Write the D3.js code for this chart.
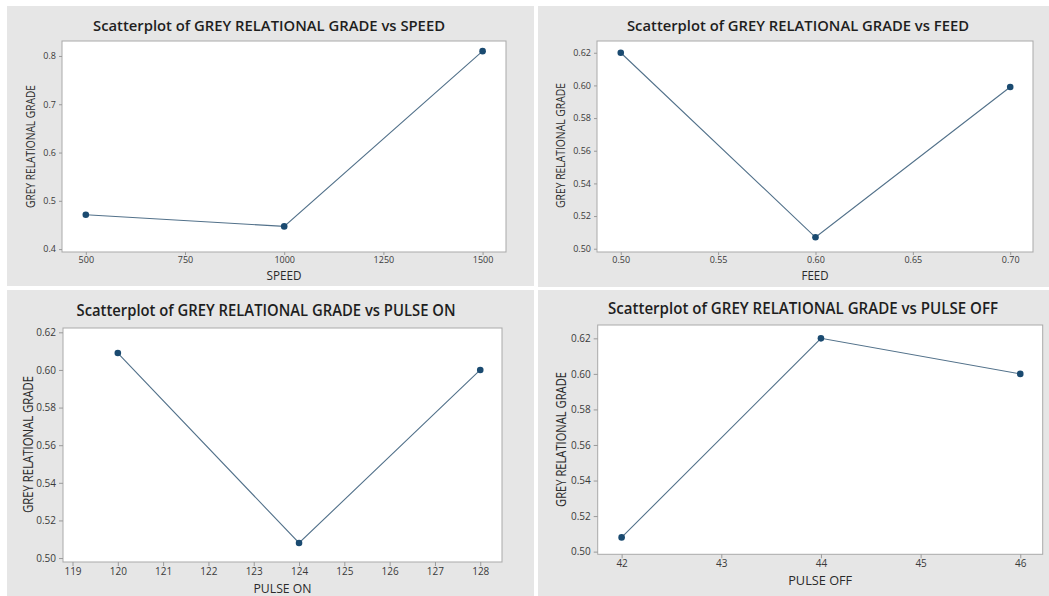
<!DOCTYPE html>
<html>
<head>
<meta charset="utf-8">
<script src="https://cdn.jsdelivr.net/npm/d3@7"></script>
<style>
  html, body { margin: 0; padding: 0; background: #ffffff; }
  svg { display: block; }
  .tick text { font-family: "Open Sans", "Noto Sans", sans-serif; fill: #3a3a3a; }
</style>
</head>
<body>
<svg id="chart" width="1049" height="596"></svg>
<script>
// ---------------- DATA ----------------
const titles = [
  "Scatterplot of GREY RELATIONAL GRADE vs SPEED",
  "Scatterplot of GREY RELATIONAL GRADE vs FEED",
  "Scatterplot of GREY RELATIONAL GRADE vs PULSE ON",
  "Scatterplot of GREY RELATIONAL GRADE vs PULSE OFF"
];
const xLabels = ["SPEED", "FEED", "PULSE ON", "PULSE OFF"];
const yLabel = "GREY RELATIONAL GRADE";

const speedLevels = [500, 1000, 1500];
const speedGRG = [0.471, 0.447, 0.810];

const feedLevels = [0.50, 0.60, 0.70];
const feedGRG = [0.620, 0.507, 0.599];

const pulseOnLevels = [120, 124, 128];
const pulseOnGRG = [0.609, 0.508, 0.600];

const pulseOffLevels = [42, 44, 46];
const pulseOffGRG = [0.508, 0.620, 0.600];

const speedTicks = [500, 750, 1000, 1250, 1500];
const speedGRGTicks = [0.4, 0.5, 0.6, 0.7, 0.8];
const feedTicks = [0.50, 0.55, 0.60, 0.65, 0.70];
const grgTicks = [0.50, 0.52, 0.54, 0.56, 0.58, 0.60, 0.62];
const pulseOnTicks = [119, 120, 121, 122, 123, 124, 125, 126, 127, 128];
const pulseOffTicks = [42, 43, 44, 45, 46];

// ---------------- LAYOUT ----------------
const panels = [
  { title: titles[0], xLabel: xLabels[0], xs: speedLevels, ys: speedGRG,
    xTicks: speedTicks, yTicks: speedGRGTicks, xFmt: d3.format("d"), yFmt: d3.format(".1f"),
    xDomain: [440, 1559], yDomain: [0.394, 0.831],
    box: [7, 6, 527, 280], plot: [62, 41, 506, 252],
    titleX: 269, titleY: 30.5, titleSize: 15, titleLen: 352,
    yLabX: 34.5, yLabY: 146.5, yLabSize: 12, yLabLen: 123,
    xLabY: 279.5, xLabSize: 12, xLabLen: 35,
    tickSize: 9, tickLen: 3, tickPad: 2 },
  { title: titles[1], xLabel: xLabels[1], xs: feedLevels, ys: feedGRG,
    xTicks: feedTicks, yTicks: grgTicks, xFmt: d3.format(".2f"), yFmt: d3.format(".2f"),
    xDomain: [0.4878, 0.7117], yDomain: [0.498, 0.6272],
    box: [538, 6, 511, 281], plot: [597, 41, 1033, 252],
    titleX: 798, titleY: 30.5, titleSize: 15, titleLen: 342,
    yLabX: 565, yLabY: 145.5, yLabSize: 12, yLabLen: 125,
    xLabY: 279.5, xLabSize: 12, xLabLen: 27,
    tickSize: 9, tickLen: 3, tickPad: 2 },
  { title: titles[2], xLabel: xLabels[2], xs: pulseOnLevels, ys: pulseOnGRG,
    xTicks: pulseOnTicks, yTicks: grgTicks, xFmt: d3.format("d"), yFmt: d3.format(".2f"),
    xDomain: [118.79, 128.48], yDomain: [0.4979, 0.6223],
    box: [7, 290, 527, 306], plot: [63, 328, 502, 562],
    titleX: 266, titleY: 316, titleSize: 16, titleLen: 379,
    yLabX: 33, yLabY: 444.5, yLabSize: 14, yLabLen: 137,
    xLabY: 592.5, xLabSize: 13, xLabLen: 58,
    tickSize: 10, tickLen: 4, tickPad: 2 },
  { title: titles[3], xLabel: xLabels[3], xs: pulseOffLevels, ys: pulseOffGRG,
    xTicks: pulseOffTicks, yTicks: grgTicks, xFmt: d3.format("d"), yFmt: d3.format(".2f"),
    xDomain: [41.76, 46.225], yDomain: [0.4985, 0.6275],
    box: [538, 290, 511, 306], plot: [597.7, 325, 1042.7, 554.3],
    titleX: 803, titleY: 313.5, titleSize: 16, titleLen: 390,
    yLabX: 565.5, yLabY: 439.5, yLabSize: 14, yLabLen: 135,
    xLabY: 585, xLabSize: 13, xLabLen: 64,
    tickSize: 10, tickLen: 4, tickPad: 2 }
];

const svg = d3.select("#chart");
const font = '"Open Sans", "Noto Sans", sans-serif';

panels.forEach(p => {
  const [bx, by, bw, bh] = p.box;
  const [l, t, r, b] = p.plot;
  const g = svg.append("g");

  g.append("rect").attr("x", bx).attr("y", by).attr("width", bw).attr("height", bh)
    .attr("fill", "#e6e6e6");

  const x = d3.scaleLinear().domain(p.xDomain).range([l, r]);
  const y = d3.scaleLinear().domain(p.yDomain).range([b, t]);

  g.append("rect").attr("x", l).attr("y", t).attr("width", r - l).attr("height", b - t)
    .attr("fill", "#ffffff").attr("stroke", "#a9a9a9").attr("stroke-width", 1);

  const xAxis = g.append("g").attr("transform", `translate(0,${b})`)
    .call(d3.axisBottom(x).tickValues(p.xTicks).tickFormat(p.xFmt)
      .tickSizeInner(p.tickLen).tickSizeOuter(0).tickPadding(p.tickPad));
  const yAxis = g.append("g").attr("transform", `translate(${l},0)`)
    .call(d3.axisLeft(y).tickValues(p.yTicks).tickFormat(p.yFmt)
      .tickSizeInner(p.tickLen).tickSizeOuter(0).tickPadding(p.tickPad + 1));
  [xAxis, yAxis].forEach(a => {
    a.select(".domain").remove();
    a.selectAll(".tick line").attr("stroke", "#9a9a9a");
    a.selectAll(".tick text").style("font-size", p.tickSize + "px").style("font-family", font).attr("fill", "#3a3a3a");
  });

  const pts = p.xs.map((v, i) => [v, p.ys[i]]);
  const line = d3.line().x(d => x(d[0])).y(d => y(d[1]));
  g.append("path").datum(pts).attr("d", line)
    .attr("fill", "none").attr("stroke", "#52718a").attr("stroke-width", 1.1);
  g.selectAll("circle.pt").data(pts).enter().append("circle")
    .attr("class", "pt")
    .attr("cx", d => x(d[0])).attr("cy", d => y(d[1])).attr("r", 3.3)
    .attr("fill", "#1a4a70");

  g.append("text").attr("x", p.titleX).attr("y", p.titleY)
    .attr("text-anchor", "middle").attr("font-family", font).attr("font-weight", 600)
    .attr("font-size", p.titleSize).attr("fill", "#1e1e1e")
    .attr("textLength", p.titleLen).attr("lengthAdjust", "spacingAndGlyphs")
    .text(p.title);

  g.append("text").attr("transform", `translate(${p.yLabX},${p.yLabY}) rotate(-90)`)
    .attr("text-anchor", "middle").attr("font-family", font)
    .attr("font-size", p.yLabSize).attr("fill", "#2a2a2a")
    .attr("textLength", p.yLabLen).attr("lengthAdjust", "spacingAndGlyphs")
    .text(yLabel);

  g.append("text").attr("x", (l + r) / 2).attr("y", p.xLabY)
    .attr("text-anchor", "middle").attr("font-family", font)
    .attr("font-size", p.xLabSize).attr("fill", "#2a2a2a")
    .attr("textLength", p.xLabLen).attr("lengthAdjust", "spacingAndGlyphs")
    .text(p.xLabel);
});
</script>
</body>
</html>
